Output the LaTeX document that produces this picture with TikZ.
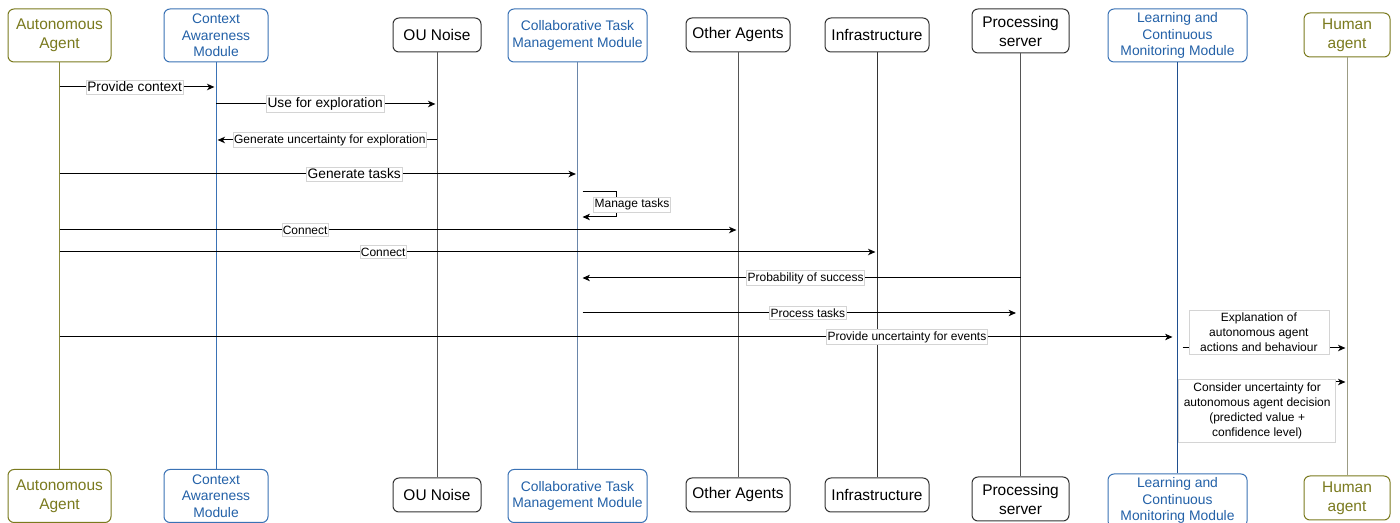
\documentclass[tikz,border=0pt]{standalone}
\usepackage{fontspec}
\setmainfont{Liberation Sans}
\usetikzlibrary{arrows.meta,calc}

\definecolor{olivetxt}{HTML}{7A7A1E}
\definecolor{oliveline}{HTML}{8A8A3A}
\definecolor{humanline}{HTML}{9C9C84}
\definecolor{bluetxt}{HTML}{2361A8}
\definecolor{blueline}{HTML}{3A72B5}
\definecolor{ctmline}{HTML}{6A86AA}
\definecolor{lcmline}{HTML}{1F4F8F}
\definecolor{darkline}{HTML}{555555}
\definecolor{boxline}{HTML}{333333}
\definecolor{lblgray}{HTML}{D4D4D4}

\newcommand{\fnttitle}{\fontsize{11.6pt}{14.25pt}\selectfont}
\newcommand{\fntmod}{\fontsize{10.4pt}{12.4pt}\selectfont}
\newcommand{\fntbig}{\fontsize{10.3pt}{12pt}\selectfont}
\newcommand{\fntsmall}{\fontsize{9pt}{11.25pt}\selectfont}

\tikzset{
  actor/.style={draw=boxline, fill=white, rounded corners=4.5pt, line width=0.75pt,
    align=center, inner sep=0pt, font=\fnttitle},
  olivebox/.style={actor, draw=olivetxt, text=olivetxt},
  bluebox/.style={actor, draw=blueline, text=bluetxt, font=\fntmod},
  tall/.style={minimum height=39.75pt},
  mid/.style={minimum height=33pt},
  low/.style={minimum height=25.5pt},
  lifeline/.style={line width=0.75pt},
  msg/.style={line width=0.75pt, -{Stealth[length=5.5pt,width=4.8pt,inset=1.5pt]}},
  lbl/.style={fill=white, draw=lblgray, line width=0.4pt, inner xsep=0.75pt,
    inner ysep=1.5pt, text=black},
  lblbig/.style={lbl, font=\fntbig},
  lblsmall/.style={lbl, font=\fntsmall},
  notebox/.style={lbl, font=\fntsmall, align=center},
}

\begin{document}
\begin{tikzpicture}[x=0.75pt, y=-0.75pt]
\useasboundingbox (0,0) rectangle (1400,523);

% participants, top row
\node[olivebox, tall, minimum width=77.25pt] (aaT) at (59.5,35.5) {Autonomous\\Agent};
\node[bluebox, tall, minimum width=78pt] (camT) at (216,35.5) {Context\\Awareness\\Module};
\node[actor, low, minimum width=66pt] (ouT) at (437,35) {OU Noise};
\node[bluebox, tall, minimum width=104.25pt] (ctmT) at (577.5,35.5) {Collaborative Task\\Management Module};
\node[actor, low, minimum width=78pt] (oaT) at (738,35) {Other Agents};
\node[actor, low, minimum width=78pt] (infT) at (877,35) {Infrastructure};
\node[actor, mid, minimum width=72.75pt] (psT) at (1020.5,31) {Processing\\server};
\node[bluebox, tall, minimum width=104.25pt] (lcmT) at (1177.5,35.5) {Learning and\\Continuous\\Monitoring Module};
\node[olivebox, mid, minimum width=64.5pt] (haT) at (1347,35) {Human\\agent};

% participants, bottom row
\node[olivebox, tall, minimum width=77.25pt] (aaB) at (59.5,496) {Autonomous\\Agent};
\node[bluebox, tall, minimum width=78pt] (camB) at (216,496) {Context\\Awareness\\Module};
\node[actor, low, minimum width=66pt] (ouB) at (437,495) {OU Noise};
\node[bluebox, tall, minimum width=104.25pt] (ctmB) at (577.5,496) {Collaborative Task\\Management Module};
\node[actor, low, minimum width=78pt] (oaB) at (738,495) {Other Agents};
\node[actor, low, minimum width=78pt] (infB) at (877,495) {Infrastructure};
\node[actor, mid, minimum width=72.75pt] (psB) at (1020.5,499) {Processing\\server};
\node[bluebox, tall, minimum width=104.25pt] (lcmB) at (1177.5,500.5) {Learning and\\Continuous\\Monitoring Module};
\node[olivebox, mid, minimum width=64.5pt] (haB) at (1347,498) {Human\\agent};

% lifelines
\draw[lifeline, oliveline] (aaT) -- (aaB);
\draw[lifeline, blueline] (camT) -- (camB);
\draw[lifeline, darkline] (ouT) -- (ouB);
\draw[lifeline, ctmline] (ctmT) -- (ctmB);
\draw[lifeline, darkline] (oaT) -- (oaB);
\draw[lifeline, boxline] (infT) -- (infB);
\draw[lifeline, darkline] (psT) -- (psB);
\draw[lifeline, lcmline] (lcmT) -- (lcmB);
\draw[lifeline, humanline] (haT) -- (haB);

% messages
\draw[msg, shorten >=1.2pt] (aaT |- 0,87) -- (camT |- 0,87)
  node[lblbig, pos=0.48] {Provide context};
\draw[msg, shorten >=1.2pt] (camT |- 0,104) -- (ouT |- 0,104)
  node[lblbig, pos=0.494] {Use for exploration};
\draw[msg, shorten >=1.2pt] (ouT |- 0,140) -- (camT |- 0,140)
  node[lblsmall, pos=0.485] {Generate uncertainty for exploration};
\draw[msg, shorten >=1.2pt] (aaT |- 0,174) -- (ctmT |- 0,174)
  node[lblbig, pos=0.569] {Generate tasks};
\draw[msg] ([xshift=3.75pt]ctmT.south |- 0,192) -- ++(34,0) -- ++(0,25)
  node[lblsmall, midway, xshift=11.6pt] {Manage tasks} -- ++(-34,0);
\draw[msg, shorten >=1.2pt] (aaT |- 0,230) -- (oaT |- 0,230)
  node[lblsmall, pos=0.362] {Connect};
\draw[msg, shorten >=1.2pt] (aaT |- 0,252) -- (infT |- 0,252)
  node[lblsmall, pos=0.396] {Connect};
\draw[msg, shorten >=3.75pt] (psT |- 0,278) -- (ctmT |- 0,278)
  node[lblsmall, pos=0.485] {Probability of success};
\draw[msg, shorten <=3.75pt, shorten >=3.4pt] (ctmT |- 0,313) -- (psT |- 0,313)
  node[lblsmall, pos=0.52] {Process tasks};
\draw[msg, shorten >=3.75pt] (aaT |- 0,337) -- (lcmT |- 0,337)
  node[lblsmall, pos=0.758] {Provide uncertainty for events};
\draw[msg, shorten <=3.75pt, shorten >=1.2pt] (lcmT |- 0,348) -- (haT |- 0,348)
  node[notebox, pos=0.48, yshift=12pt, minimum width=105pt, minimum height=33pt]
  {Explanation of\\autonomous agent\\actions and behaviour};
\draw[msg, shorten <=3.75pt, shorten >=1.2pt] (lcmT |- 0,382) -- (haT |- 0,382)
  node[notebox, pos=0.47, yshift=-21.75pt, minimum width=117.75pt, minimum height=47.25pt]
  {Consider uncertainty for\\autonomous agent decision\\(predicted value +\\confidence level)};
\end{tikzpicture}
\end{document}
